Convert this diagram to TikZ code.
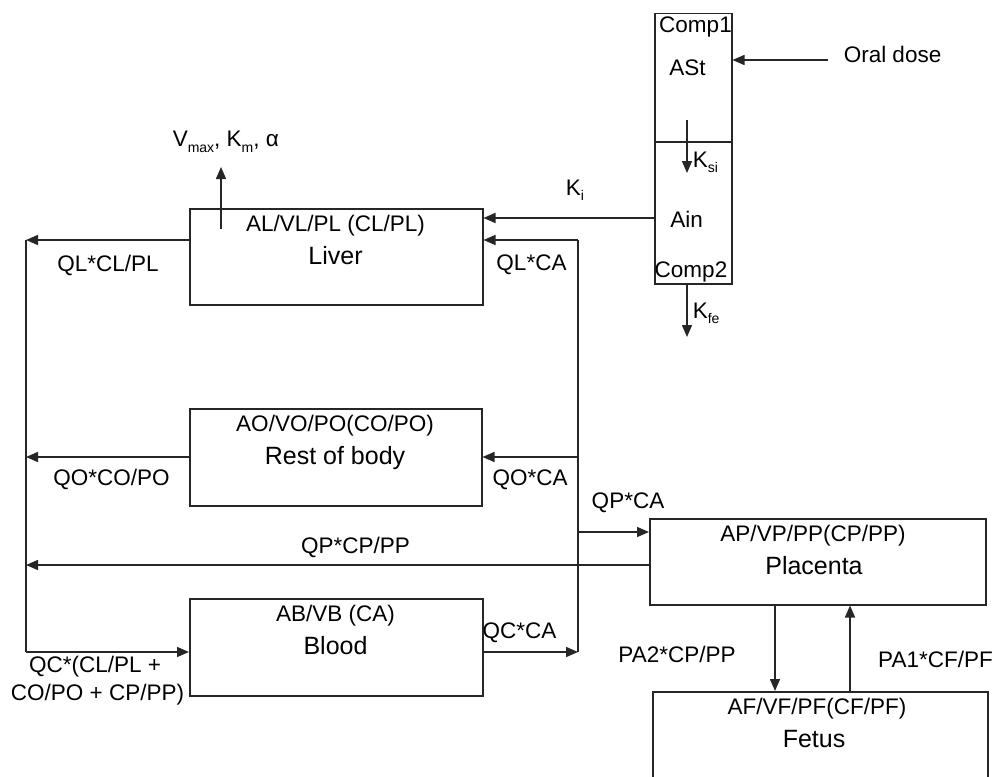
\documentclass[tikz,border=0pt]{standalone}
\usepackage{fontspec}
\setmainfont{Liberation Sans}
\usetikzlibrary{arrows.meta}
\newcommand{\sbs}[1]{\raisebox{-5.5pt}{\fontsize{14}{14}\selectfont #1}}
\begin{document}
\begin{tikzpicture}[x=1pt,y=-1pt,
  line width=1.5pt, draw=black!85,
  box/.style={draw, rectangle, inner sep=0pt, anchor=north west},
  arr/.style={-{Triangle[length=12pt,width=10pt]}},
  lbl/.style={inner sep=0pt, anchor=base, font=\fontsize{22.5}{27}\selectfont},
  nm/.style={inner sep=0pt, anchor=base, font=\fontsize{25}{30}\selectfont},
  lblw/.style={lbl, anchor=base west}]
\useasboundingbox (0,0) rectangle (995,776);
\clip (0,0) rectangle (995,776);
\fill[white] (0,0) rectangle (995,776);

% compartments
\node[box, minimum width=293pt, minimum height=96pt] (liver) at (189,208) {};
\node[box, minimum width=292pt, minimum height=97pt] (rest) at (189,408) {};
\node[box, minimum width=293pt, minimum height=97pt] (blood) at (189,598) {};
\node[box, minimum width=336pt, minimum height=86pt] (placenta) at (649,518) {};
\node[box, minimum width=335pt, minimum height=130pt] (fetus) at (652,691) {};
\node[box, minimum width=77pt, minimum height=270pt] (comp) at (654,13) {};
\coordinate (div) at (0,142);
\draw (comp.west |- div) -- (comp.east |- div);

% box texts
\node[lbl] (liverA) at (335.5,231) {AL/VL/PL (CL/PL)};
\node[nm] (liverB) at (335.5,264.5) {Liver};
\node[lbl] (restA) at (335,431) {AO/VO/PO(CO/PO)};
\node[nm] (restB) at (335,464.5) {Rest of body};
\node[lbl] (bloodA) at (335.5,621) {AB/VB (CA)};
\node[nm] (bloodB) at (335.5,654.5) {Blood};
\node[lbl] (placA) at (813,541) {AP/VP/PP(CP/PP)};
\node[nm] (placB) at (814,574.5) {Placenta};
\node[lbl] (fetA) at (817,714) {AF/VF/PF(CF/PF)};
\node[nm] (fetB) at (814,747.5) {Fetus};
\node[lbl] (c1) at (695.5,33) {Comp1};
\node[lbl] (ast) at (687.5,75) {ASt};
\node[lbl] (ain) at (686.5,227) {Ain};
\node[lbl] (c2) at (691,277) {Comp2};

% helper coordinates
\coordinate (Lt) at (26,240);
\coordinate (Lb) at (26,652);
\coordinate (Rt) at (578,240);
\coordinate (Rb) at (578,652);
\coordinate (rowO) at (0,457);
\coordinate (rowPin) at (0,532);
\coordinate (rowPout) at (0,565);
\coordinate (rowKi) at (0,218);
\coordinate (vmA) at (221,229);
\coordinate (vmB) at (221,167);
\coordinate (orald) at (828,60);
\coordinate (ksiA) at (687,120);
\coordinate (ksiB) at (687,173);
\coordinate (kfeB) at (687,337);
\coordinate (pdown) at (775,0);
\coordinate (pup) at (850,0);

% connectors
\draw[arr] (liver.west |- Lt) -- (Lt);
\draw (Lt) -- (Lb);
\draw[arr] (Lb) -- (blood.west |- Lb);
\draw[arr] (rest.west |- rowO) -- (Lt |- rowO);
\draw[arr] (placenta.west |- rowPout) -- (Lt |- rowPout);
\draw[arr] (blood.east |- Rb) -- (Rb);
\draw (Rb) -- (Rt);
\draw[arr] (Rt) -- (liver.east |- Rt);
\draw[arr] (Rt |- rowO) -- (rest.east |- rowO);
\draw[arr] (Rt |- rowPin) -- (placenta.west |- rowPin);
\draw[arr] (comp.west |- rowKi) -- (liver.east |- rowKi);
\draw[arr] (vmA) -- (vmB);
\draw[arr] (ksiA) -- (ksiB);
\draw[arr] (comp.south -| ksiA) -- (kfeB);
\draw[arr] (orald) -- (comp.east |- orald);
\draw[arr] (placenta.south -| pdown) -- (fetus.north -| pdown);
\draw[arr] (fetus.north -| pup) -- (placenta.south -| pup);

% labels
\node[lblw] (vmax) at (172,146.5) {V\sbs{max}, K\sbs{m}, α};
\node[lblw] (ki) at (565,195) {K\sbs{i}};
\node[lblw] (ksi) at (692,167) {K\sbs{si}};
\node[lblw] (kfe) at (692,318) {K\sbs{fe}};
\node[lblw] (oral) at (843,63) {Oral dose};
\node[lbl] (qlcl) at (108,271.5) {QL*CL/PL};
\node[lbl] (qlca) at (531.5,270) {QL*CA};
\node[lbl] (qoco) at (111.5,485) {QO*CO/PO};
\node[lbl] (qoca) at (530,485) {QO*CA};
\node[lbl] (qpca) at (628,508) {QP*CA};
\node[lbl] (qpcp) at (355.5,553) {QP*CP/PP};
\node[lbl] (qcca) at (519.5,638) {QC*CA};
\node[lbl] (qcA) at (95,672) {QC*(CL/PL +};
\node[lbl] (qcB) at (97.5,700) {CO/PO + CP/PP)};
\node[lbl] (pa2) at (677,662) {PA2*CP/PP};
\node[lbl] (pa1) at (935.5,667) {PA1*CF/PF};
\end{tikzpicture}
\end{document}
